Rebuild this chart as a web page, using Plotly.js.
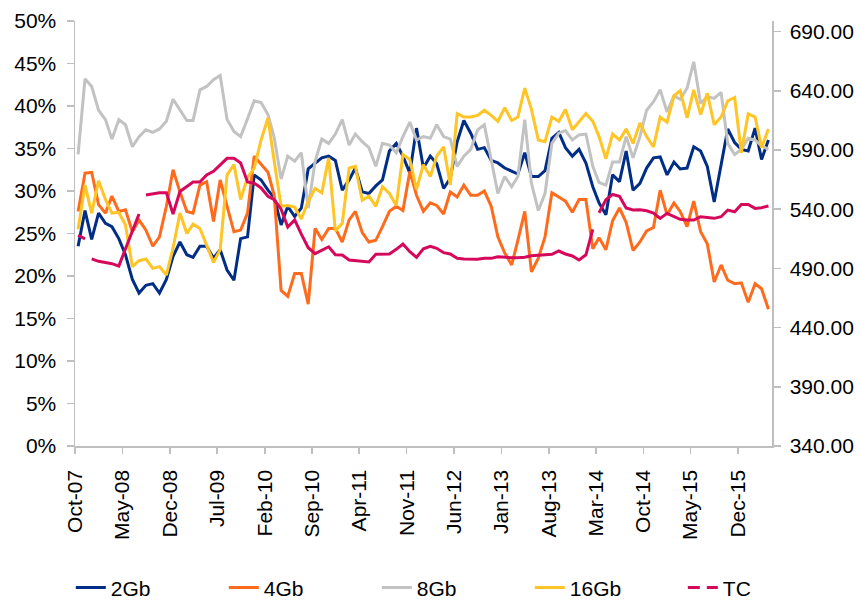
<!DOCTYPE html>
<html>
<head>
<meta charset="utf-8">
<script src="https://cdn.plot.ly/plotly-3.0.1.min.js"></script>
<style>
html,body{margin:0;padding:0;background:#fff;}
#chart{width:860px;height:600px;}
</style>
</head>
<body>
<div id="chart"></div>
<script>
// Monthly observations, Oct-07 .. Apr-16 (103 months)
const startYear = 2007;
const startMonth = 10; // October
const seriesNames = ["2Gb", "4Gb", "8Gb", "16Gb", "TC"];

// 2Gb (% , left axis)
const gb2 = [23.5,27.7,24.3,27.4,26.2,25.8,24.4,22.5,19.6,18.0,18.9,19.1,18.0,19.6,22.3,24.0,22.5,22.2,23.5,23.5,
  22.1,23.1,20.7,19.5,24.4,24.6,31.9,31.3,30.1,29.2,26.0,28.2,27.0,28.0,32.6,33.3,33.9,34.1,33.6,30.1,
  31.3,32.7,29.9,29.7,30.6,31.3,34.7,35.6,34.1,32.1,37.4,32.7,34.1,33.2,30.3,31.5,35.8,38.3,36.8,34.9,
  35.1,33.6,33.3,32.7,32.3,32.0,34.5,31.7,31.7,32.4,36.2,36.9,35.1,34.1,34.9,33.3,30.5,28.6,27.2,31.9,
  31.1,34.7,30.1,30.9,32.7,33.9,34.0,31.9,33.4,32.6,32.7,35.2,34.7,32.9,28.7,32.9,37.3,35.7,34.9,34.7,
  37.4,33.7,36.0];
// 4Gb
const gb4 = [27.6,32.1,32.2,28.4,27.4,29.4,27.6,27.8,25.2,26.6,25.4,23.5,24.6,28.2,32.5,29.9,27.6,27.4,30.7,31.1,
  26.4,31.3,28.2,25.2,25.4,27.4,34.1,33.1,32.2,29.5,18.3,17.6,20.3,20.3,16.7,25.6,24.3,25.6,25.6,24.0,
  26.6,27.6,25.1,24.0,24.2,25.8,27.6,28.2,27.7,32.3,29.5,27.6,28.6,28.3,27.3,29.9,29.3,30.7,29.5,29.5,
  30.0,28.2,24.6,22.7,21.3,24.2,27.6,20.5,22.1,24.6,29.8,29.3,28.8,27.5,29.0,29.0,23.2,24.5,23.1,26.5,
  28.0,26.3,23.0,24.0,25.3,25.7,30.1,27.2,28.6,27.6,25.8,28.8,25.2,23.8,19.3,21.3,19.5,19.1,19.2,16.9,
  19.1,18.5,16.1];
// 8Gb
const gb8 = [34.3,43.2,42.3,39.5,38.4,36.1,38.4,37.8,35.2,36.4,37.2,36.9,37.3,38.2,40.8,39.6,38.3,38.3,41.9,42.3,
  43.1,43.6,38.4,37.0,36.4,38.5,40.6,40.4,39.0,36.3,31.4,34.1,33.5,34.5,28.0,33.5,36.1,35.6,36.7,38.4,
  35.4,36.7,35.8,35.1,32.9,35.6,35.4,34.5,36.4,38.1,36.0,36.4,36.2,37.8,36.4,36.1,32.9,34.1,34.9,37.2,
  37.8,33.7,29.7,31.7,30.5,31.7,38.4,30.9,27.7,29.7,35.6,36.8,37.1,36.0,36.6,36.7,32.9,31.0,30.7,33.4,
  33.4,36.4,33.9,36.4,39.5,40.5,41.9,39.3,41.2,40.8,42.1,45.2,40.3,41.1,40.9,41.6,35.6,34.3,34.9,36.2,
  36.0,35.3,34.9];
// 16Gb
const gb16 = [25.5,30.7,27.4,31.2,29.0,27.4,27.5,26.0,21.1,21.8,22.0,20.9,21.1,20.1,23.3,27.4,25.0,26.1,25.6,23.6,
  21.6,23.1,31.9,33.1,29.0,31.6,32.7,36.0,38.6,33.5,28.2,28.3,28.1,26.7,28.8,30.3,29.8,33.9,25.3,26.2,
  32.7,32.9,28.9,29.4,28.2,30.5,29.7,28.3,34.3,33.7,30.2,33.1,31.7,34.1,35.2,30.7,39.1,38.7,38.7,38.9,
  39.5,38.9,38.2,39.8,38.3,38.7,42.1,39.6,36.0,35.8,38.7,38.2,39.6,37.2,38.2,39.1,38.2,36.4,33.8,36.7,
  36.0,37.3,35.6,38.0,36.4,35.2,38.7,38.1,41.2,41.8,38.6,41.9,39.0,41.5,37.8,38.7,40.6,41.0,34.5,39.1,
  38.7,35.1,37.3];
// TC (right axis)
const tc = [518,515,498,496,495,494,492,506,521,536,552,553,554,554,536,555,559,563,563,569,
  572,577,583,583,579,563,562,558,551,548,540,525,531,519,507.5,502.5,505.5,508.3,501.5,501.3,
  497.1,496.5,496.0,495.4,501.9,501.9,502.2,506.1,510.6,504.1,499.4,506.5,508.6,507.0,503.3,502.2,498.5,497.9,497.9,497.7,
  498.5,498.5,499.9,499.4,499.1,499.1,499.4,500.7,501.3,501.9,501.9,504.7,502.2,500.5,497.1,501.5,523,537,548,552.5,
  551,541,539.3,539.6,538.7,536.8,532.3,536.5,533.7,531.5,530.9,530.9,533.7,533.1,532.3,533.7,539.3,537.9,544.1,544.1,
  540.7,541.3,542.7];
// the TC line is broken before these months (index)
const tcBreaks = [2, 10, 77];

const colors = {"2Gb":"#002D86","4Gb":"#FF6B1C","8Gb":"#C2C2C2","16Gb":"#FFC425","TC":"#D6085C"};

// build month dates (mid-month)
const dates = [];
for (let k = 0; k < gb2.length; k++) {
  const m = startMonth - 1 + k;
  const y = startYear + Math.floor(m / 12);
  const mm = (m % 12) + 1;
  dates.push(y + "-" + String(mm).padStart(2, "0") + "-15");
}
const tcX = [], tcY = [];
tc.forEach((v, k) => {
  if (tcBreaks.includes(k)) { tcX.push(dates[k]); tcY.push(null); }
  tcX.push(dates[k]); tcY.push(v);
});

const lw = 3;
function line(name, vals) {
  return {type:"scatter", mode:"lines", name:name, x:dates, y:vals,
          line:{color:colors[name], width:lw}, hoverinfo:"x+y+name"};
}
const traces = [
  line("2Gb", gb2), line("4Gb", gb4), line("8Gb", gb8), line("16Gb", gb16),
  {type:"scatter", mode:"lines", name:"TC", x:tcX, y:tcY, yaxis:"y2", connectgaps:false,
   line:{color:colors.TC, width:lw}, showlegend:false, legendgroup:"tc"},
  {type:"scatter", mode:"lines", name:"TC", x:[null], y:[null], yaxis:"y2",
   line:{color:colors.TC, width:lw, dash:"12px,7px"}, legendgroup:"tc"}
];

const font = {family:"'Liberation Sans', Arial, Helvetica, sans-serif", size:21, color:"#000"};
const axisColor = "#BFBFBF";
const layout = {
  width:860, height:600,
  margin:{l:75, r:88, t:21, b:154, autoexpand:false},
  paper_bgcolor:"#fff", plot_bgcolor:"#fff",
  font:font,
  showlegend:true,
  xaxis:{type:"date", range:["2007-10-01","2016-05-01"], tick0:"2007-10-01", dtick:"M7",
         tickformat:"%b-%y", tickangle:-90, showgrid:false, zeroline:false,
         showline:true, linecolor:axisColor, linewidth:1.5, ticks:"outside", ticklen:6,
         tickcolor:axisColor, tickwidth:1.5, ticklabelstandoff:8, tickfont:font},
  yaxis:{range:[0,50], tick0:0, dtick:5, ticksuffix:"%", showgrid:false, zeroline:false,
         showline:true, linecolor:axisColor, linewidth:1.5, ticks:"outside", ticklen:7,
         tickcolor:axisColor, tickwidth:1.5, ticklabelstandoff:6, tickfont:font},
  yaxis2:{overlaying:"y", side:"right", range:[340,699], tick0:340, dtick:50, tickformat:".2f",
          showgrid:false, zeroline:false, showline:true, linecolor:axisColor, linewidth:1.5,
          ticks:"outside", ticklen:7, tickcolor:axisColor, tickwidth:1.5, ticklabelstandoff:5, tickfont:font},
  legend:{orientation:"h", xref:"paper", yref:"paper", x:-0.006, y:-0.334, xanchor:"left", yanchor:"middle",
          font:font, entrywidth:108, bgcolor:"rgba(0,0,0,0)", traceorder:"normal"}
};
Plotly.newPlot("chart", traces, layout, {displayModeBar:false, staticPlot:true});
</script>
</body>
</html>
